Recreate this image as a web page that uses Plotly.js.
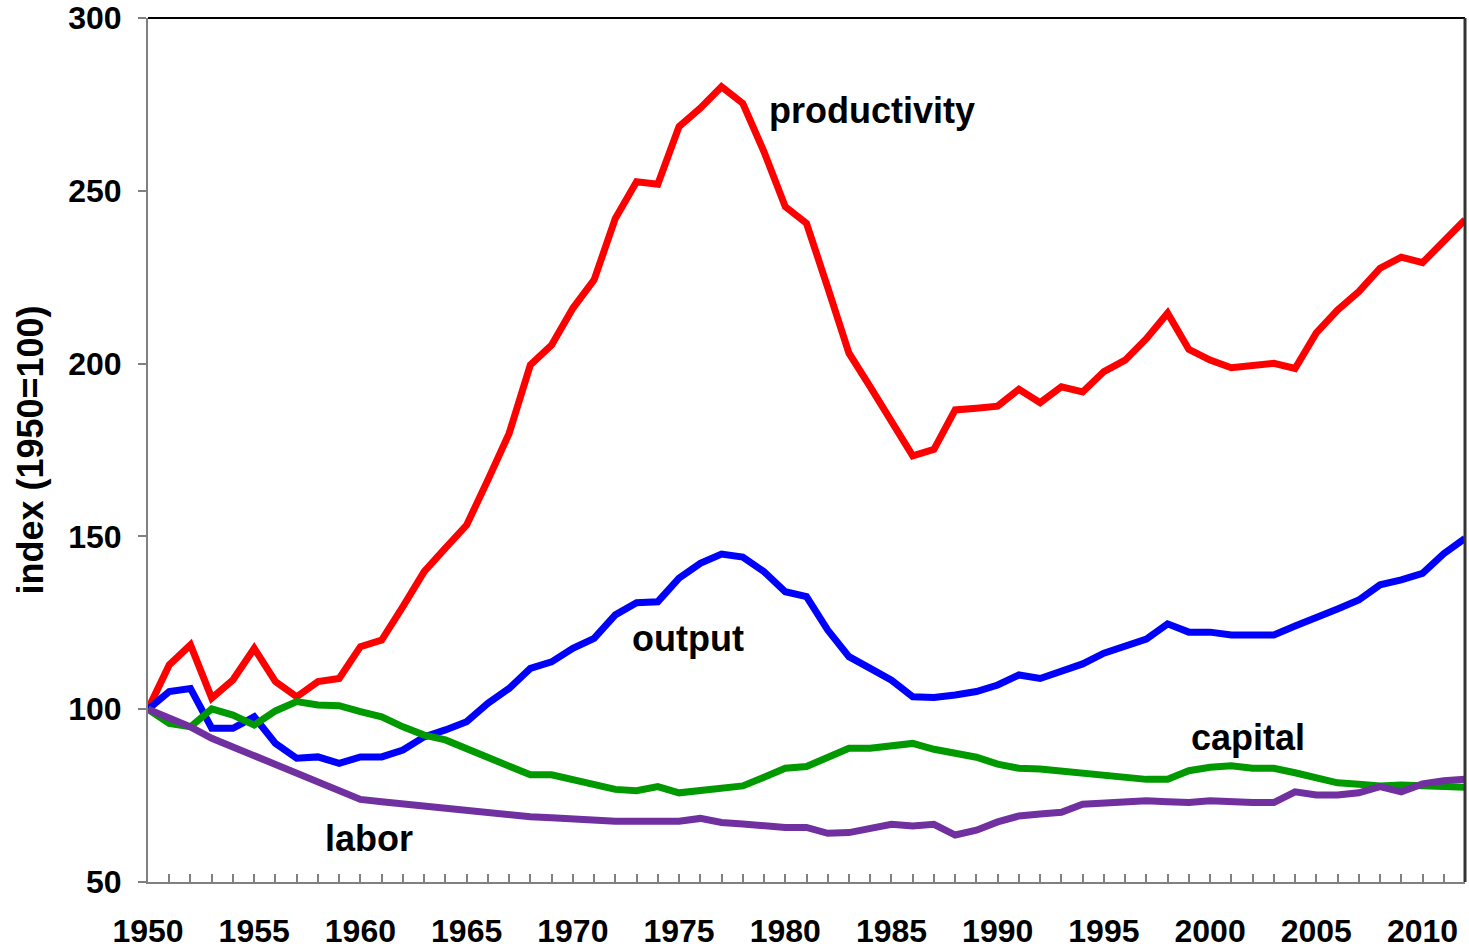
<!DOCTYPE html>
<html>
<head>
<meta charset="utf-8">
<script src="https://cdn.plot.ly/plotly-3.0.1.min.js"></script>
<style>html,body{margin:0;padding:0;background:#fff;}#chart{width:1469px;height:951px;}</style>
</head>
<body>
<div id="chart"></div>
<script>
const years = [1950,1951,1952,1953,1954,1955,1956,1957,1958,1959,
  1960,1961,1962,1963,1964,1965,1966,1967,1968,1969,
  1970,1971,1972,1973,1974,1975,1976,1977,1978,1979,
  1980,1981,1982,1983,1984,1985,1986,1987,1988,1989,
  1990,1991,1992,1993,1994,1995,1996,1997,1998,1999,
  2000,2001,2002,2003,2004,2005,2006,2007,2008,2009,
  2010,2011,2012];

const productivity = [100,112.8,118.6,103.2,108.5,117.6,108,103.6,108,108.9,
  118.1,120,129.7,139.8,146.6,153.3,166.3,179.8,199.6,205.4,
  216,224.2,242,252.6,251.9,268.6,273.9,280.1,275.3,261.3,
  245.4,240.6,222,203,193.3,183.2,173.3,175.2,186.6,187.1,
  187.7,192.6,188.7,193.3,191.8,197.7,201,207.2,214.6,204.1,
  201,198.8,199.3,200.1,198.6,208.9,215.5,220.8,227.6,230.8,
  229.2,235.3,241.6];

const output = [100,105.1,106,94.5,94.5,97.8,90.1,85.8,86.2,84.3,
  86.2,86.2,88.2,92,94,96.4,101.7,106,111.8,113.7,
  117.6,120.5,127.3,130.8,131.1,137.9,142.2,144.9,144,139.8,
  134,132.6,122.9,115.2,111.8,108.4,103.6,103.4,104.1,105.1,
  107,109.9,108.9,110.9,113.1,116.2,118.1,120.3,124.7,122.3,
  122.3,121.5,121.5,121.5,124.1,126.4,129,131.6,136,137.4,
  139.3,145,149.4];

const capital = [100,95.9,94.9,100.1,98.3,95.4,99.5,102.2,101.2,101,
  99.3,97.8,94.9,92.5,91.1,88.7,85.8,83.6,81,81,
  79.7,78.6,76.8,76.4,77.6,75.8,76.4,76.8,77.8,80.3,
  82.9,83.4,86.1,88.7,88.7,89.4,90.1,88.4,87.4,86.1,
  84.1,82.9,82.7,82.1,81.6,80.7,80.2,79.7,79.7,82.2,
  83.2,83.6,82.9,82.9,81.6,80.2,78.7,78.3,77.8,78.1,
  77.8,77.4,77.4];

const labor = [100,97.7,94.9,91.6,89.1,86.7,83.9,81.5,79,76.4,
  73.9,73.2,72.6,72,71.3,70.3,69.9,69.4,68.9,68.6,
  68.1,67.6,67.6,67.6,67.6,67.6,68.4,67.2,66.8,66.2,
  65.8,65.8,64.1,64.3,65.5,66.7,66.2,66.7,63.6,65,
  67.4,69.1,69.7,70.2,72.5,73,73.5,73.5,73.2,73,
  73.5,73,73,73,76.1,75.2,75.2,75.8,77.6,76.1,
  78.4,79.3,79.7];

const seriesNames = ['productivity','output','capital','labor'];
const seriesColors = ['#ff0000','#0000ff','#009900','#7030a0'];
const seriesData = [productivity, output, capital, labor];
// label anchor positions (year, index value)
const labelX = [1984.1, 1975.4, 2001.8, 1960.4];
const labelY = [273.1, 120.6, 91.7, 62.7];

const FONT = 'Liberation Sans, Arial, sans-serif';

const traces = seriesData.map((d, i) => ({
  type: 'scatter', mode: 'lines', x: years, y: d, name: seriesNames[i],
  line: {color: seriesColors[i], width: 7}, hoverinfo: 'x+y'
}));

const annotations = seriesNames.map((n, i) => ({
  x: labelX[i], y: labelY[i], xref: 'x', yref: 'y', text: n, showarrow: false,
  font: {family: FONT, size: 36, color: '#000', weight: 'bold'},
  xanchor: 'center', yanchor: 'middle'
}));

const layout = {
  width: 1469, height: 951,
  margin: {l: 148, r: 4, t: 18, b: 69, pad: 0},
  paper_bgcolor: '#fff', plot_bgcolor: '#fff',
  showlegend: false,
  xaxis: {
    range: [1950, 2012], tickmode: 'linear', tick0: 1950, dtick: 5,
    ticks: 'inside', ticklen: 8, tickwidth: 2, tickcolor: '#808080',
    minor: {dtick: 1, tick0: 1950, ticks: 'inside', ticklen: 8, tickwidth: 2, tickcolor: '#808080', showgrid: false},
    showline: true, linecolor: '#808080', linewidth: 2,
    showgrid: false, zeroline: false,
    tickfont: {family: FONT, size: 32, color: '#000', weight: 'bold'},
    ticklabelstandoff: 20
  },
  yaxis: {
    range: [50, 300], tickmode: 'linear', tick0: 50, dtick: 50,
    ticks: 'outside', ticklen: 8, tickwidth: 2, tickcolor: '#808080',
    showline: true, linecolor: '#808080', linewidth: 2,
    showgrid: false, zeroline: false,
    tickfont: {family: FONT, size: 32, color: '#000', weight: 'bold'},
    ticklabelstandoff: 10,
    title: {text: 'index (1950=100)', font: {family: FONT, size: 36, color: '#000', weight: 'bold'}, standoff: 14}
  },
  shapes: [
    {type: 'line', xref: 'paper', yref: 'paper', x0: 0, x1: 1, y0: 1, y1: 1, line: {color: '#000', width: 2}},
    {type: 'line', xref: 'paper', yref: 'paper', x0: 1, x1: 1, y0: 0, y1: 1, line: {color: '#333', width: 3}}
  ],
  annotations: annotations
};

Plotly.newPlot('chart', traces, layout, {displayModeBar: false, staticPlot: true});
</script>
</body>
</html>
